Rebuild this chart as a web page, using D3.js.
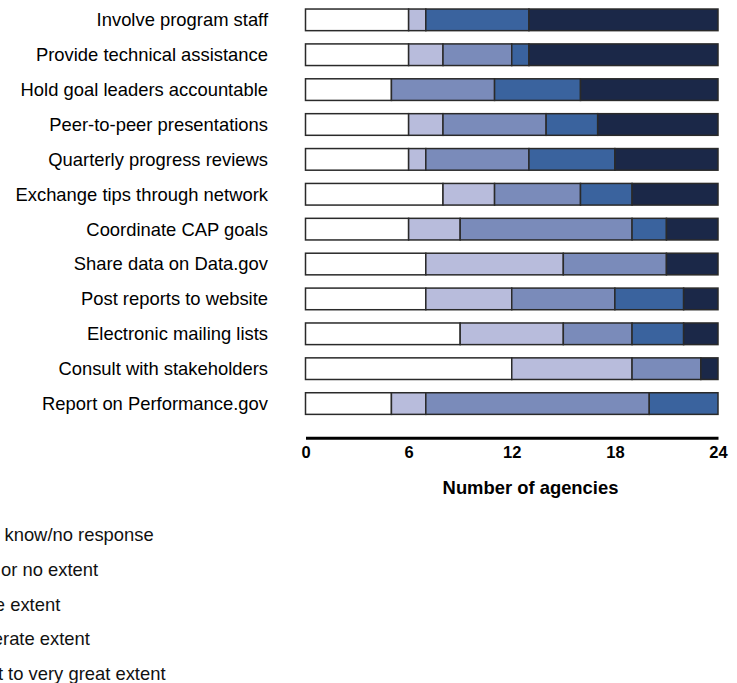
<!DOCTYPE html>
<html>
<head>
<meta charset="utf-8">
<script src="https://cdn.jsdelivr.net/npm/d3@7"></script>
<style>
  html, body { margin: 0; padding: 0; background: #fff; }
  svg { display: block; font-family: "Liberation Sans", Arial, sans-serif; }
</style>
</head>
<body>
<svg id="chart" width="737" height="683"></svg>
<script>
const categories = [
  "Involve program staff",
  "Provide technical assistance",
  "Hold goal leaders accountable",
  "Peer-to-peer presentations",
  "Quarterly progress reviews",
  "Exchange tips through network",
  "Coordinate CAP goals",
  "Share data on Data.gov",
  "Post reports to website",
  "Electronic mailing lists",
  "Consult with stakeholders",
  "Report on Performance.gov"
];
const seriesNames = [
  "Don't know/no response",
  "Little or no extent",
  "Some extent",
  "Moderate extent",
  "Great to very great extent"
];
const dontKnow   = [6, 6, 5, 6, 6, 8, 6, 7, 7, 9, 12, 5];
const littleNone = [1, 2, 0, 2, 1, 3, 3, 8, 5, 6, 7, 2];
const someExtent = [0, 4, 6, 6, 6, 5, 10, 6, 6, 4, 4, 13];
const moderate   = [6, 1, 5, 3, 5, 3, 2, 0, 4, 3, 0, 4];
const greatExtent= [11, 11, 8, 7, 6, 5, 3, 3, 2, 2, 1, 0];
const tickValues = [0, 6, 12, 18, 24];
const colors = ["#ffffff", "#b8bcdc", "#7a8bba", "#3a639e", "#1b2848"];

const seriesValues = [dontKnow, littleNone, someExtent, moderate, greatExtent];
const rows = categories.map((c, i) => {
  const r = { category: c };
  seriesNames.forEach((s, j) => { r[s] = seriesValues[j][i]; });
  return r;
});

const svg = d3.select("#chart");

const x = d3.scaleLinear().domain([0, 24]).range([305.5, 718]);
const y = d3.scaleBand().domain(categories).range([2.4, 421])
  .paddingInner(0.38).paddingOuter(0.19);
const color = d3.scaleOrdinal().domain(seriesNames).range(colors);

const stacked = d3.stack().keys(seriesNames)(rows);

svg.append("g")
  .selectAll("g")
  .data(stacked)
  .join("g")
  .attr("fill", d => color(d.key))
  .selectAll("rect")
  .data(d => d.filter(p => p[1] - p[0] > 0))
  .join("rect")
  .attr("x", d => x(d[0]))
  .attr("y", d => y(d.data.category))
  .attr("width", d => x(d[1]) - x(d[0]))
  .attr("height", y.bandwidth())
  .attr("stroke", "#2a2a2a")
  .attr("stroke-width", 1.5);

// category labels
svg.append("g")
  .selectAll("text")
  .data(categories)
  .join("text")
  .attr("x", 268)
  .attr("y", d => y(d) + y.bandwidth() / 2)
  .attr("dy", "0.35em")
  .attr("text-anchor", "end")
  .attr("font-size", "18.4px")
  .attr("fill", "#000")
  .text(d => d);

// x axis
const axis = d3.axisBottom(x).tickValues(tickValues).tickSize(0).tickPadding(8.5)
  .tickFormat(d3.format("d"));
const gx = svg.append("g").attr("transform", "translate(0,437.7)").call(axis);
gx.select(".domain").attr("stroke", "#000").attr("stroke-width", 3);
gx.selectAll("text")
  .attr("font-size", "16.5px")
  .attr("font-weight", "bold")
  .attr("font-family", "'Liberation Sans', Arial, sans-serif")
  .attr("fill", "#000");

svg.append("text")
  .attr("x", 530.5)
  .attr("y", 487.3)
  .attr("dy", "0.35em")
  .attr("text-anchor", "middle")
  .attr("font-size", "18.4px")
  .attr("font-weight", "bold")
  .text("Number of agencies");

// legend (partly off the left edge, as in the reference)
const legend = svg.append("g")
  .selectAll("g")
  .data(seriesNames)
  .join("g")
  .attr("transform", (d, i) => `translate(-43, ${535 + i * 34.6})`);
legend.append("rect")
  .attr("x", -40).attr("y", -9).attr("width", 28).attr("height", 18)
  .attr("fill", d => color(d)).attr("stroke", "#2a2a2a").attr("stroke-width", 1.5);
legend.append("text")
  .attr("x", 0)
  .attr("dy", "0.35em")
  .attr("font-size", "18.4px")
  .attr("fill", "#111")
  .text(d => d);
</script>
</body>
</html>
